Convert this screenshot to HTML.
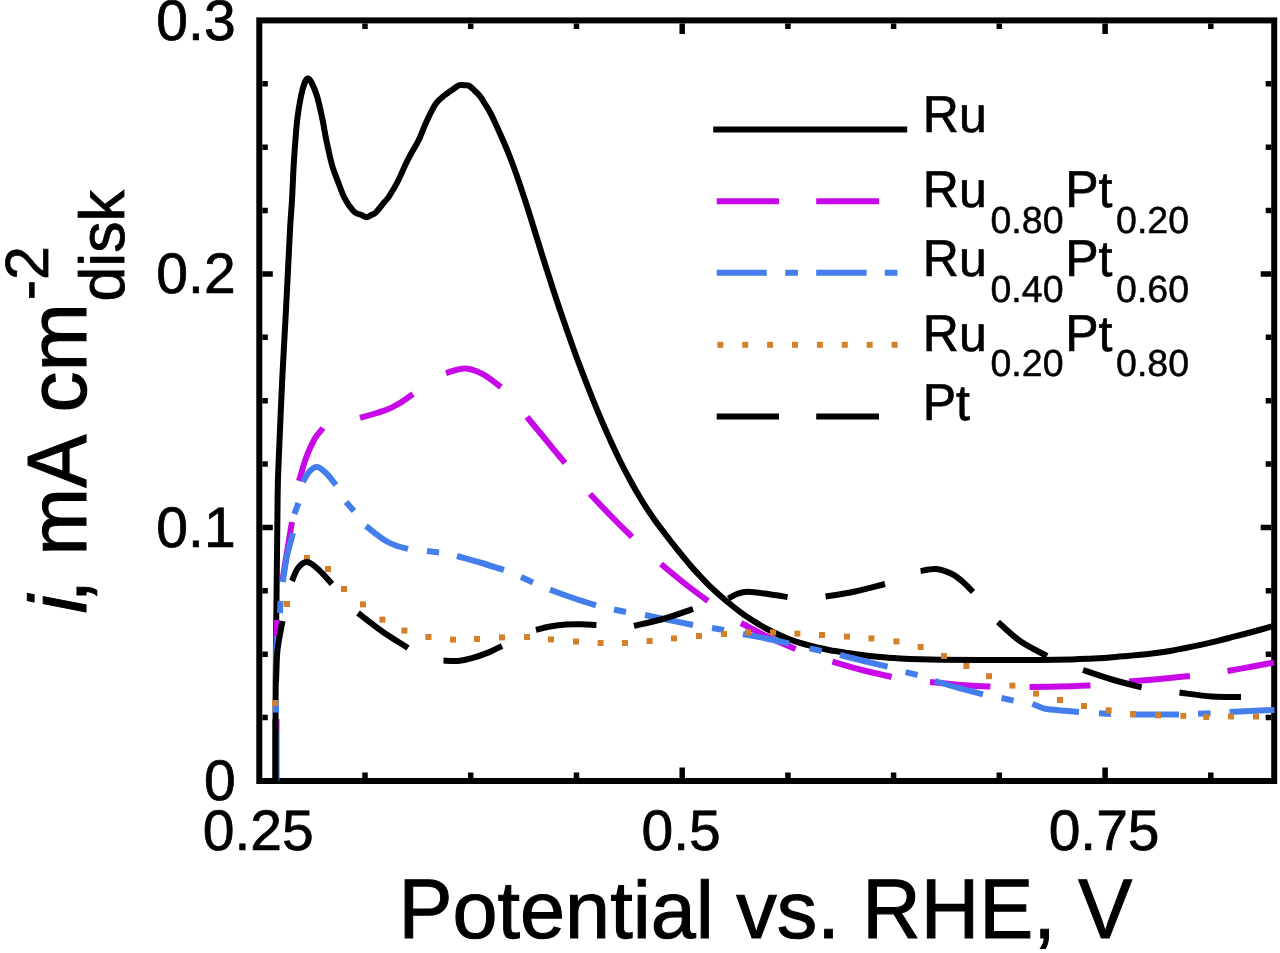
<!DOCTYPE html>
<html><head><meta charset="utf-8"><title>chart</title>
<style>html,body{margin:0;padding:0;background:#fff}svg{display:block}text{font-family:"Liberation Sans",sans-serif;fill:#000;stroke:#000;stroke-width:0.013em;text-rendering:geometricPrecision;font-kerning:none;white-space:pre}</style>
</head><body>
<svg width="1280" height="953" viewBox="0 0 1280 953">
<defs><filter id="gs" x="-5%" y="-20%" width="110%" height="140%" color-interpolation-filters="sRGB"><feColorMatrix type="saturate" values="0"/></filter></defs>
<rect width="1280" height="953" fill="#fff"/>
<g stroke="#000" fill="none" stroke-width="6.0">
<rect x="259.3" y="20.4" width="1014.9" height="760.6"/>
</g>
<path d="M365.0 778.0 v-5.5M365.0 23.4 v5.5M470.7 778.0 v-5.5M470.7 23.4 v5.5M576.5 778.0 v-5.5M576.5 23.4 v5.5M682.2 778.0 v-10.5M682.2 23.4 v10.5M787.9 778.0 v-5.5M787.9 23.4 v5.5M893.6 778.0 v-5.5M893.6 23.4 v5.5M999.3 778.0 v-5.5M999.3 23.4 v5.5M1105.1 778.0 v-10.5M1105.1 23.4 v10.5M1210.8 778.0 v-5.5M1210.8 23.4 v5.5M262.3 717.6 h5.5M1271.2 717.6 h-5.5M262.3 654.2 h5.5M1271.2 654.2 h-5.5M262.3 590.8 h5.5M1271.2 590.8 h-5.5M262.3 527.5 h10.5M1271.2 527.5 h-10.5M262.3 464.1 h5.5M1271.2 464.1 h-5.5M262.3 400.7 h5.5M1271.2 400.7 h-5.5M262.3 337.3 h5.5M1271.2 337.3 h-5.5M262.3 273.9 h10.5M1271.2 273.9 h-10.5M262.3 210.5 h5.5M1271.2 210.5 h-5.5M262.3 147.2 h5.5M1271.2 147.2 h-5.5M262.3 83.8 h5.5M1271.2 83.8 h-5.5" stroke="#000" stroke-width="5.5" fill="none"/>
<g stroke="#000" stroke-width="6.0" fill="none" stroke-linecap="butt" stroke-linejoin="round">
<path d="M275.5 781.0C275.5 767.5 275.5 723.5 275.6 700.0C275.7 676.5 275.9 656.7 276.0 640.0C276.1 623.3 276.2 623.3 276.5 600.0C276.8 576.7 277.3 521.7 277.6 500.0C277.9 478.3 277.8 483.3 278.3 470.0C278.8 456.7 279.8 435.0 280.4 420.0C281.0 405.0 281.6 391.7 282.2 380.0C282.8 368.3 283.0 365.0 283.8 350.0C284.6 335.0 286.0 310.0 287.0 290.0C288.0 270.0 289.2 245.0 290.0 230.0C290.8 215.0 291.3 211.7 292.0 200.0C292.7 188.3 293.1 173.3 294.0 160.0C294.9 146.7 296.0 130.7 297.2 120.0C298.4 109.3 299.7 102.3 301.0 96.0C302.3 89.7 303.8 84.9 305.0 82.0C306.2 79.1 306.9 78.5 308.0 78.6C309.1 78.7 310.0 79.6 311.5 82.5C313.0 85.4 315.1 89.8 317.0 96.0C318.9 102.2 321.0 112.5 322.6 120.0C324.2 127.5 324.9 133.5 326.5 141.0C328.1 148.5 330.2 158.4 332.0 165.0C333.8 171.6 335.5 175.2 337.5 180.5C339.5 185.8 342.0 192.8 344.0 197.0C346.0 201.2 347.7 203.4 349.5 206.0C351.3 208.6 353.1 211.0 355.0 212.5C356.9 214.0 359.1 214.0 361.0 214.8C362.9 215.6 364.8 217.2 366.5 217.3C368.2 217.4 369.4 216.0 371.0 215.2C372.6 214.4 373.8 214.4 376.0 212.3C378.2 210.2 381.8 205.1 384.0 202.5C386.2 199.9 386.7 200.1 389.0 196.5C391.3 192.9 395.2 186.5 398.0 181.0C400.8 175.5 403.7 168.3 406.0 163.5C408.3 158.7 409.8 156.0 412.0 152.0C414.2 148.0 416.5 144.8 419.0 139.5C421.5 134.2 424.2 126.5 427.0 120.5C429.8 114.5 433.0 107.8 436.0 103.5C439.0 99.2 442.3 97.2 445.0 95.0C447.7 92.8 449.7 91.6 452.0 90.0C454.3 88.4 457.0 86.1 459.0 85.3C461.0 84.5 462.3 85.1 464.0 85.2C465.7 85.3 467.2 84.8 469.0 85.7C470.8 86.6 472.7 88.8 474.5 90.5C476.3 92.2 478.2 94.0 480.0 96.2C481.8 98.5 483.3 101.3 485.0 104.0C486.7 106.7 488.4 109.3 490.0 112.2C491.6 115.1 492.4 116.9 494.5 121.5C496.6 126.1 500.1 133.6 502.9 140.0C505.7 146.4 508.5 153.3 511.1 160.0C513.7 166.7 516.0 173.3 518.3 180.0C520.6 186.7 522.8 193.3 525.0 200.0C527.2 206.7 529.2 213.3 531.3 220.0C533.4 226.7 535.4 233.3 537.5 240.0C539.6 246.7 541.6 253.3 543.7 260.0C545.8 266.7 548.0 273.3 550.1 280.0C552.2 286.7 554.4 293.3 556.6 300.0C558.8 306.7 561.1 313.3 563.4 320.0C565.7 326.7 568.0 333.3 570.4 340.0C572.8 346.7 575.1 353.3 577.6 360.0C580.1 366.7 582.6 373.3 585.2 380.0C587.8 386.7 590.4 393.3 593.1 400.0C595.8 406.7 598.5 413.3 601.4 420.0C604.2 426.7 607.2 433.3 610.2 440.0C613.2 446.7 616.3 453.3 619.6 460.0C622.9 466.7 626.4 473.3 630.0 480.0C633.6 486.7 637.4 493.3 641.5 500.0C645.6 506.7 650.0 513.3 654.7 520.0C659.4 526.7 665.6 534.5 669.8 540.0C674.0 545.5 676.6 548.6 680.0 552.8C683.4 557.0 686.7 561.1 690.0 565.0C693.3 568.9 696.7 572.4 700.0 576.0C703.3 579.6 706.7 583.1 710.0 586.4C713.3 589.6 716.7 592.6 720.0 595.5C723.3 598.4 726.7 601.3 730.0 604.0C733.3 606.7 736.7 609.3 740.0 611.8C743.3 614.3 746.7 616.6 750.0 618.8C753.3 621.0 756.7 623.0 760.0 625.0C763.3 627.0 766.7 628.8 770.0 630.5C773.3 632.2 776.7 633.8 780.0 635.3C783.3 636.8 786.7 638.2 790.0 639.5C793.3 640.8 796.7 641.9 800.0 642.9C803.3 643.9 806.7 644.9 810.0 645.7C813.3 646.6 816.7 647.2 820.0 648.0C823.3 648.8 826.7 649.6 830.0 650.2C833.3 650.8 835.0 651.0 840.0 651.8C845.0 652.6 853.3 653.9 860.0 654.8C866.7 655.7 873.3 656.4 880.0 657.0C886.7 657.6 893.3 658.0 900.0 658.4C906.7 658.8 913.3 659.1 920.0 659.3C926.7 659.5 930.0 659.6 940.0 659.7C950.0 659.8 963.3 659.9 980.0 659.9C996.7 659.9 1024.7 660.0 1040.0 659.9C1055.3 659.8 1063.7 659.6 1072.0 659.4C1080.3 659.2 1083.7 659.0 1090.0 658.7C1096.3 658.4 1103.3 657.9 1110.0 657.4C1116.7 656.9 1123.0 656.3 1130.0 655.7C1137.0 655.1 1145.3 654.4 1152.0 653.6C1158.7 652.8 1163.3 652.2 1170.0 651.0C1176.7 649.8 1184.0 648.3 1192.0 646.6C1200.0 644.9 1211.3 642.4 1218.0 640.8C1224.7 639.2 1226.3 638.7 1232.0 637.2C1237.7 635.7 1245.3 633.8 1252.0 632.0C1258.7 630.2 1268.7 627.4 1272.0 626.5"/>
</g>
<g stroke="#C808E8" stroke-width="6.0" fill="none" stroke-linecap="butt" stroke-linejoin="round">
<path d="M276.5 781.0 L276.5 719.0"/>
<path d="M276.0 682.0C276.0 676.7 276.1 660.3 276.2 650.0C276.3 639.7 276.7 625.0 276.8 620.0"/>
<path d="M282.2 581.5C283.0 576.6 285.4 561.9 287.0 552.0C288.6 542.1 291.2 527.0 292.0 522.0"/>
<path d="M299.0 481.0C300.2 477.2 303.5 464.8 306.0 458.0C308.5 451.2 311.2 445.0 314.0 440.0C316.8 435.0 321.5 430.0 323.0 428.0"/>
<path d="M360.0 418.0C364.3 416.7 379.3 412.5 386.0 410.0C392.7 407.5 395.5 405.7 400.0 403.0C404.5 400.3 410.8 395.5 413.0 394.0"/>
<path d="M446.0 373.0C447.7 372.5 452.7 370.8 456.0 370.0C459.3 369.2 462.7 368.2 466.0 368.4C469.3 368.6 472.7 369.7 476.0 371.0C479.3 372.3 481.8 373.3 486.0 376.0C490.2 378.7 498.5 385.2 501.0 387.0"/>
<path d="M527.0 417.0C530.2 420.8 539.7 432.3 546.0 440.0C552.3 447.7 561.8 459.2 565.0 463.0"/>
<path d="M590.0 494.0C593.5 497.7 604.0 508.8 611.0 516.0C618.0 523.2 628.5 533.5 632.0 537.0"/>
<path d="M661.0 564.0C664.8 567.2 676.2 576.8 684.0 583.0C691.8 589.2 704.0 598.0 708.0 601.0"/>
<path d="M741.0 623.0C745.5 625.3 758.9 632.7 768.0 637.0C777.1 641.3 791.0 647.0 795.6 649.0"/>
<path d="M832.4 661.6C837.3 663.0 852.1 667.4 862.0 670.0C871.9 672.6 886.7 675.8 891.6 677.0"/>
<path d="M930.0 682.0C935.0 682.5 949.9 684.2 960.0 685.0C970.1 685.8 985.3 686.3 990.4 686.6"/>
<path d="M1029.6 687.0C1034.7 686.9 1049.9 686.8 1060.0 686.6C1070.1 686.4 1085.3 685.8 1090.4 685.6"/>
<path d="M1129.0 681.6C1134.2 681.2 1149.8 679.9 1160.0 679.0C1170.2 678.1 1185.0 676.5 1190.0 676.0"/>
<path d="M1227.5 671.0C1231.2 670.3 1242.2 668.4 1250.0 667.0C1257.8 665.6 1270.0 663.2 1274.0 662.5"/>
</g>
<g stroke="#447EEC" stroke-width="6.0" fill="none" stroke-linecap="butt" stroke-linejoin="round">
<path d="M276.0 781.0 L276.0 731.0"/>
<path d="M276.0 712.6 L276.0 700.5"/>
<path d="M276.0 680.0C276.1 675.0 276.2 657.3 276.5 650.0C276.8 642.7 277.3 638.3 277.5 636.0"/>
<path d="M280.0 613.0 L280.6 601.0"/>
<path d="M282.8 582.0C283.5 577.7 285.3 564.2 287.0 556.0C288.7 547.8 292.0 536.8 293.0 533.0"/>
<path d="M294.4 514.0 L298.4 503.0"/>
<path d="M303.0 482.0C304.0 480.3 306.7 474.5 309.0 472.0C311.3 469.5 314.2 466.8 317.0 467.0C319.8 467.2 322.8 470.0 326.0 473.0C329.2 476.0 334.3 483.0 336.0 485.0"/>
<path d="M346.0 502.0 L354.0 511.0"/>
<path d="M366.0 526.0C367.7 527.3 372.7 531.5 376.0 534.0C379.3 536.5 382.5 539.0 386.0 541.0C389.5 543.0 393.3 544.7 397.0 546.0C400.7 547.3 406.2 548.5 408.0 549.0"/>
<path d="M427.0 551.0 L439.0 552.4"/>
<path d="M457.0 556.0C460.8 557.1 472.2 560.2 480.0 562.5C487.8 564.8 500.0 568.8 504.0 570.0"/>
<path d="M521.0 577.0 L533.0 582.4"/>
<path d="M550.0 589.6C553.8 591.0 565.3 595.4 573.0 598.0C580.7 600.6 592.2 604.2 596.0 605.4"/>
<path d="M614.0 609.5 L626.0 612.0"/>
<path d="M645.0 615.0C649.0 615.8 661.0 618.3 669.0 620.0C677.0 621.7 689.0 624.2 693.0 625.0"/>
<path d="M712.0 628.0 L724.0 630.0"/>
<path d="M743.0 634.0C746.8 634.8 758.3 636.9 766.0 638.5C773.7 640.1 785.2 642.6 789.0 643.4"/>
<path d="M809.6 648.4 L821.6 651.0"/>
<path d="M840.0 655.0C844.0 656.0 856.1 659.1 864.0 661.0C871.9 662.9 883.7 665.7 887.6 666.6"/>
<path d="M905.6 672.2 L917.6 675.0"/>
<path d="M935.0 681.0C939.0 682.2 951.0 685.8 959.0 688.0C967.0 690.2 979.0 693.3 983.0 694.4"/>
<path d="M1001.6 698.0 L1013.6 700.6"/>
<path d="M1032.4 704.0C1033.7 704.5 1037.9 706.2 1040.0 707.0C1042.1 707.8 1041.7 708.2 1045.0 708.8C1048.3 709.4 1054.3 709.9 1060.0 710.4C1065.7 710.9 1075.8 711.7 1079.0 712.0"/>
<path d="M1099.0 713.3 L1111.0 713.9"/>
<path d="M1130.4 714.4 L1179.0 714.6"/>
<path d="M1198.0 713.8 L1210.5 713.3"/>
<path d="M1229.5 712.0C1232.9 711.8 1242.5 711.3 1250.0 711.0C1257.5 710.7 1270.4 710.2 1274.5 710.0"/>
</g>
<g fill="#D4802A">
<rect x="272.4" y="700.0" width="6.0" height="6.0"/>
<rect x="284.0" y="601.0" width="6.0" height="6.0"/>
<rect x="304.0" y="555.0" width="6.0" height="6.0"/>
<rect x="325.0" y="566.0" width="6.0" height="6.0"/>
<rect x="341.0" y="586.0" width="6.0" height="6.0"/>
<rect x="360.0" y="601.4" width="6.0" height="6.0"/>
<rect x="379.4" y="616.6" width="6.0" height="6.0"/>
<rect x="401.4" y="627.6" width="6.0" height="6.0"/>
<rect x="425.4" y="634.0" width="6.0" height="6.0"/>
<rect x="450.0" y="636.6" width="6.0" height="6.0"/>
<rect x="474.0" y="636.0" width="6.0" height="6.0"/>
<rect x="499.0" y="634.4" width="6.0" height="6.0"/>
<rect x="524.0" y="634.0" width="6.0" height="6.0"/>
<rect x="548.0" y="636.4" width="6.0" height="6.0"/>
<rect x="573.0" y="638.6" width="6.0" height="6.0"/>
<rect x="597.6" y="640.0" width="6.0" height="6.0"/>
<rect x="622.0" y="640.0" width="6.0" height="6.0"/>
<rect x="646.6" y="638.0" width="6.0" height="6.0"/>
<rect x="671.0" y="635.4" width="6.0" height="6.0"/>
<rect x="696.0" y="633.0" width="6.0" height="6.0"/>
<rect x="721.0" y="631.0" width="6.0" height="6.0"/>
<rect x="745.0" y="629.4" width="6.0" height="6.0"/>
<rect x="770.0" y="629.4" width="6.0" height="6.0"/>
<rect x="794.4" y="630.6" width="6.0" height="6.0"/>
<rect x="819.0" y="632.0" width="6.0" height="6.0"/>
<rect x="844.0" y="633.6" width="6.0" height="6.0"/>
<rect x="868.4" y="635.4" width="6.0" height="6.0"/>
<rect x="893.4" y="638.4" width="6.0" height="6.0"/>
<rect x="917.6" y="644.0" width="6.0" height="6.0"/>
<rect x="941.0" y="653.0" width="6.0" height="6.0"/>
<rect x="963.4" y="663.0" width="6.0" height="6.0"/>
<rect x="986.0" y="673.2" width="6.0" height="6.0"/>
<rect x="1009.4" y="682.6" width="6.0" height="6.0"/>
<rect x="1033.0" y="690.6" width="6.0" height="6.0"/>
<rect x="1057.0" y="697.0" width="6.0" height="6.0"/>
<rect x="1081.0" y="703.0" width="6.0" height="6.0"/>
<rect x="1105.6" y="707.4" width="6.0" height="6.0"/>
<rect x="1130.0" y="711.0" width="6.0" height="6.0"/>
<rect x="1155.0" y="712.3" width="6.0" height="6.0"/>
<rect x="1180.3" y="712.8" width="6.0" height="6.0"/>
<rect x="1203.2" y="714.0" width="6.0" height="6.0"/>
<rect x="1228.0" y="713.5" width="6.0" height="6.0"/>
<rect x="1253.0" y="713.5" width="6.0" height="6.0"/>
</g>
<g stroke="#000" stroke-width="6.0" fill="none" stroke-linecap="butt" stroke-linejoin="round">
<path d="M275.5 781.0 L275.5 719.0"/>
<path d="M276.0 682.0C276.2 676.7 276.4 660.2 277.5 650.0C278.6 639.8 281.7 625.8 282.5 621.0"/>
<path d="M292.0 581.0C293.0 578.8 295.5 571.2 298.0 568.0C300.5 564.8 303.7 561.8 307.0 562.0C310.3 562.2 313.8 565.3 318.0 569.0C322.2 572.7 329.7 581.5 332.0 584.0"/>
<path d="M358.0 613.0C362.2 616.2 374.7 626.2 383.0 632.0C391.3 637.8 403.8 645.3 408.0 648.0"/>
<path d="M443.5 660.6C445.9 660.7 453.2 661.4 458.0 661.0C462.8 660.6 467.0 659.6 472.0 658.2C477.0 656.8 483.0 654.6 488.0 652.6C493.0 650.6 499.7 647.1 502.0 646.0"/>
<path d="M536.0 630.0C538.3 629.4 545.0 627.4 550.0 626.5C555.0 625.6 560.8 624.8 566.0 624.4C571.2 624.0 575.9 624.1 581.0 624.2C586.1 624.3 593.8 624.9 596.4 625.0"/>
<path d="M634.0 626.0C638.8 624.8 653.2 621.8 663.0 619.0C672.8 616.2 688.0 610.7 693.0 609.0"/>
<path d="M728.5 598.6C729.9 597.8 733.8 595.1 737.0 594.0C740.2 592.9 742.8 591.8 748.0 591.8C753.2 591.8 761.4 593.1 768.0 594.0C774.6 594.9 784.3 596.5 787.6 597.0"/>
<path d="M825.6 596.6C830.5 595.8 845.1 593.6 855.0 591.5C864.9 589.4 880.0 585.2 885.0 584.0"/>
<path d="M920.6 571.0C923.2 570.7 930.8 568.5 936.0 569.0C941.2 569.5 947.5 571.8 952.0 574.0C956.5 576.2 959.5 579.0 963.0 582.0C966.5 585.0 971.3 590.3 973.0 592.0"/>
<path d="M998.0 622.0C1001.7 625.2 1011.8 635.3 1020.0 641.0C1028.2 646.7 1042.5 653.5 1047.0 656.0"/>
<path d="M1083.0 670.0C1087.8 671.6 1102.2 676.6 1112.0 679.5C1121.8 682.4 1136.7 686.1 1141.6 687.4"/>
<path d="M1179.5 692.6C1184.9 693.2 1201.8 695.8 1212.0 696.5C1222.2 697.2 1236.2 696.9 1241.0 697.0"/>
</g>
<g fill="none" stroke-width="6">
<path d="M713.2 129.5H907.2" stroke="#000"/>
<path d="M716.7 201.2h62.3M816.2 201.2h62.8" stroke="#C808E8"/>
<path d="M716.7 272.8h50M785.3 272.8h12.6M816.2 272.8h50.4M884.8 272.8h12.6" stroke="#447EEC"/>
<path d="M716.7 416.4h62.3M816.2 416.4h62.8" stroke="#000"/>
</g>
<g fill="#D4802A">
<rect x="717.3" y="341.8" width="6.0" height="6.0"/>
<rect x="742.2" y="341.8" width="6.0" height="6.0"/>
<rect x="767.1" y="341.8" width="6.0" height="6.0"/>
<rect x="792.0" y="341.8" width="6.0" height="6.0"/>
<rect x="816.9" y="341.8" width="6.0" height="6.0"/>
<rect x="841.8" y="341.8" width="6.0" height="6.0"/>
<rect x="866.7" y="341.8" width="6.0" height="6.0"/>
<rect x="891.6" y="341.8" width="6.0" height="6.0"/>
</g>
<text transform="translate(235.6 39.8) scale(1.000 1.000)" font-size="57.0" text-anchor="end">0.3</text>
<text transform="translate(235.6 293.3) scale(1.000 1.000)" font-size="57.0" text-anchor="end">0.2</text>
<text transform="translate(235.6 546.9) scale(1.000 1.000)" font-size="57.0" text-anchor="end">0.1</text>
<text transform="translate(235.6 800.4) scale(1.000 1.000)" font-size="57.0" text-anchor="end">0</text>
<text transform="translate(258.3 850.2) scale(1.000 1.000)" font-size="57.0" text-anchor="middle">0.25</text>
<text transform="translate(681.2 850.2) scale(1.000 1.000)" font-size="57.0" text-anchor="middle">0.5</text>
<text transform="translate(1104.1 850.2) scale(1.000 1.000)" font-size="57.0" text-anchor="middle">0.75</text>
<text transform="translate(398.5 937.8) scale(1.000 1.045)" font-size="81.0" text-anchor="start">P</text>
<text transform="translate(452.5 937.8) scale(1.000 1.000)" font-size="81.0" text-anchor="start">otential vs. </text>
<text transform="translate(862.2 937.8) scale(1.000 1.045)" font-size="81.0" text-anchor="start">RHE</text>
<text transform="translate(1033.3 937.8) scale(1.000 1.000)" font-size="81.0" text-anchor="start">, </text>
<text transform="translate(1078.3 937.8) scale(1.000 1.045)" font-size="81.0" text-anchor="start">V</text>
<text transform="translate(922.8 132.0) scale(1.000 1.040)" font-size="50.0" text-anchor="start">R</text>
<text transform="translate(958.9 132.0) scale(1.000 1.000)" font-size="50.0" text-anchor="start">u</text>
<text transform="translate(922.8 207.3) scale(1.000 1.040)" font-size="50.0" text-anchor="start">R</text>
<text transform="translate(958.9 207.3) scale(1.000 1.000)" font-size="50.0" text-anchor="start">u</text>
<text transform="translate(990.5 232.5) scale(1.000 1.000)" font-size="37.5" text-anchor="start" filter="url(#gs)">0.80</text>
<text transform="translate(1065.3 207.3) scale(1.000 1.040)" font-size="50.0" text-anchor="start">P</text>
<text transform="translate(1098.6 207.3) scale(1.000 1.000)" font-size="50.0" text-anchor="start">t</text>
<text transform="translate(1116.1 232.5) scale(1.000 1.000)" font-size="37.5" text-anchor="start" filter="url(#gs)">0.20</text>
<text transform="translate(922.8 276.3) scale(1.000 1.040)" font-size="50.0" text-anchor="start">R</text>
<text transform="translate(958.9 276.3) scale(1.000 1.000)" font-size="50.0" text-anchor="start">u</text>
<text transform="translate(990.5 301.5) scale(1.000 1.000)" font-size="37.5" text-anchor="start" filter="url(#gs)">0.40</text>
<text transform="translate(1065.3 276.3) scale(1.000 1.040)" font-size="50.0" text-anchor="start">P</text>
<text transform="translate(1098.6 276.3) scale(1.000 1.000)" font-size="50.0" text-anchor="start">t</text>
<text transform="translate(1116.1 301.5) scale(1.000 1.000)" font-size="37.5" text-anchor="start" filter="url(#gs)">0.60</text>
<text transform="translate(922.8 351.2) scale(1.000 1.040)" font-size="50.0" text-anchor="start">R</text>
<text transform="translate(958.9 351.2) scale(1.000 1.000)" font-size="50.0" text-anchor="start">u</text>
<text transform="translate(990.5 376.4) scale(1.000 1.000)" font-size="37.5" text-anchor="start" filter="url(#gs)">0.20</text>
<text transform="translate(1065.3 351.2) scale(1.000 1.040)" font-size="50.0" text-anchor="start">P</text>
<text transform="translate(1098.6 351.2) scale(1.000 1.000)" font-size="50.0" text-anchor="start">t</text>
<text transform="translate(1116.1 376.4) scale(1.000 1.000)" font-size="37.5" text-anchor="start" filter="url(#gs)">0.80</text>
<text transform="translate(922.8 419.8) scale(1.000 1.040)" font-size="50.0" text-anchor="start">P</text>
<text transform="translate(956.1 419.8) scale(1.000 1.000)" font-size="50.0" text-anchor="start">t</text>
<text transform="translate(86.0 613.3) rotate(-90) scale(1.000 1.000)" font-size="81.0" font-style="italic">i</text>
<text transform="translate(86.0 602.5) rotate(-90) scale(1.000 1.040)" font-size="81.0">,</text>
<text transform="translate(86.0 555.5) rotate(-90) scale(1.000 1.000)" font-size="81.0">m</text>
<text transform="translate(86.0 487.8) rotate(-90) scale(0.985 1.040)" font-size="81.0">A</text>
<text transform="translate(86.0 412.4) rotate(-90) scale(1.000 1.000)" font-size="82.0">cm</text>
<text transform="translate(48.0 300.3) rotate(-90) scale(1.000 1.000)" font-size="61.0">-2</text>
<text transform="translate(124.0 301.6) rotate(-90) scale(1.027 1.040)" font-size="61.0">disk</text>
</svg></body></html>
